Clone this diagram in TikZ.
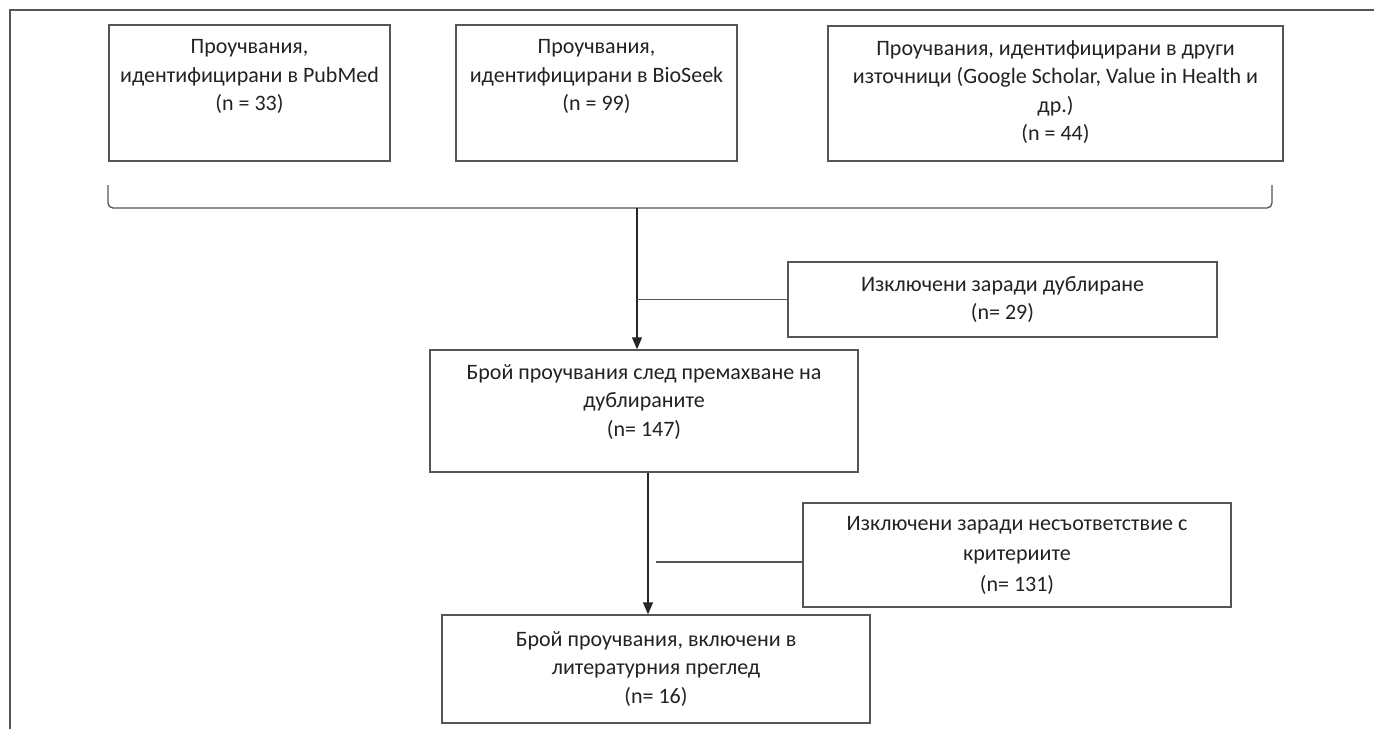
\documentclass[tikz,border=0pt]{standalone}
\usepackage{fontspec}
\setmainfont{Carlito}
\usetikzlibrary{positioning,arrows.meta}
\definecolor{linegray}{HTML}{555555}
\definecolor{textgray}{HTML}{222222}
\tikzset{
  box/.style={draw=linegray, line width=1.4pt, inner sep=0pt},
  txt/.style={align=center, inner sep=0pt, text=textgray, font=\fontsize{22}{28.5}\selectfont},
  link/.style={draw=linegray, line width=1.3pt},
  arr/.style={draw=black!85, line width=1.3pt, -{Triangle[width=10pt,length=12pt]}},
}
\begin{document}
\begin{tikzpicture}[x=1pt,y=-1pt]
\useasboundingbox (0,0) rectangle (1374,729);
\draw[link] (10,729) -- (10,10) -- (1374,10);

% sources
\node[box, minimum width=281pt, minimum height=136pt] (pubmed) at (249.5,93) {};
\node[txt, below=15pt of pubmed.north] {Проучвания,\\идентифицирани в PubMed\\(n = 33)};
\node[box, minimum width=281pt, minimum height=136pt] (bioseek) at (596.5,93) {};
\node[txt, below=15pt of bioseek.north] {Проучвания,\\идентифицирани в BioSeek\\(n = 99)};
\node[box, minimum width=455pt, minimum height=135pt] (other) at (1055.5,93.5) {};
\node[txt, below=15pt of other.north] {Проучвания, идентифицирани в други\\източници (Google Scholar, Value in Health и\\др.)\\(n = 44)};

% bracket under the sources
\draw[link] (108,185) -- (108,203) to[out=-90,in=180] (113,208) -- (1267,208)
  to[out=0,in=-90] (1272,203) -- (1272,185);
\coordinate (merge) at (637,208);

% screening
\node[box, txt, minimum width=429pt, minimum height=75pt] (dupl) at (1002.5,299.5)
  {Изключени заради дублиране\\(n= 29)};
\node[box, minimum width=428pt, minimum height=122pt] (dedup) at (644,411) {};
\node[txt, below=15pt of dedup.north] {Брой проучвания след премахване на\\дублираните\\(n= 147)};
\node[box, txt, font=\fontsize{22}{30.5}\selectfont, minimum width=428pt, minimum height=104pt] (crit) at (1017,555)
  {Изключени заради несъответствие с\\критериите\\(n= 131)};
\node[box, txt, minimum width=428pt, minimum height=108pt] (final) at (656,669)
  {Брой проучвания, включени в\\литературния преглед\\(n= 16)};

\draw[arr] (merge) -- (merge |- dedup.north);
\draw[link] (dupl.west) -- (dupl.west -| merge);
\draw[arr] ([xshift=4pt]dedup.south) -- ([xshift=4pt]dedup.south |- final.north);
\draw[link] ([yshift=-7pt]crit.west) -- ([yshift=-7pt]crit.west -| final.north);
\end{tikzpicture}
\end{document}
